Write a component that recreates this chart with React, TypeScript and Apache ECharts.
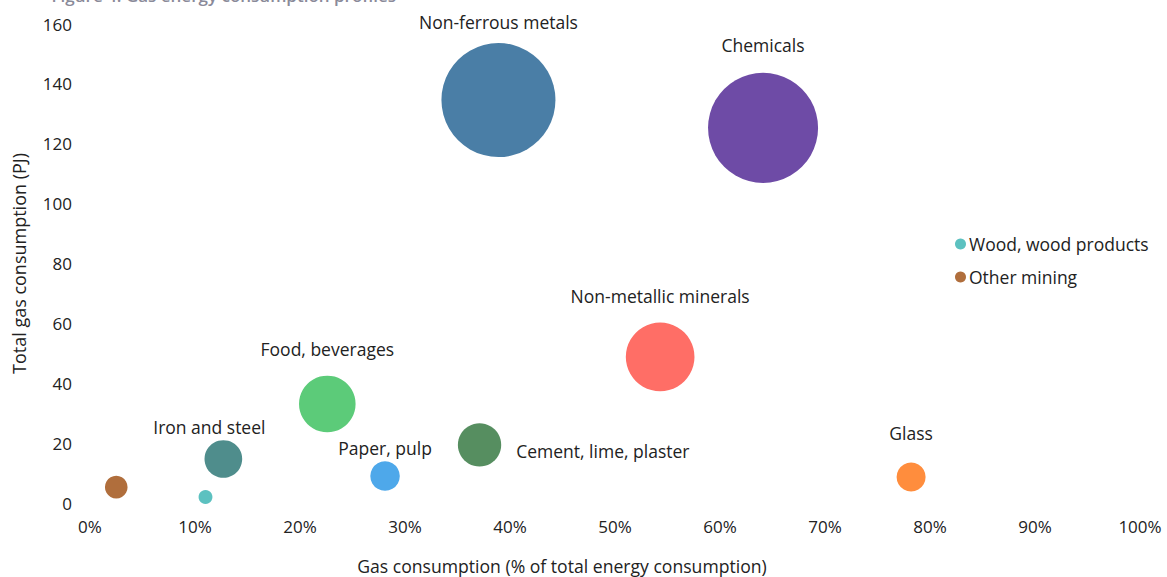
import React, { useEffect, useRef } from "react";
import * as echarts from "echarts";

const sectors = [
  "Non-ferrous metals",
  "Chemicals",
  "Non-metallic minerals",
  "Food, beverages",
  "Iron and steel",
  "Cement, lime, plaster",
  "Paper, pulp",
  "Glass",
  "Wood, wood products",
  "Other mining",
];
// Gas share of total energy consumption (%)
const gasShare = [38.9, 64.1, 54.3, 22.6, 12.7, 37.1, 28.1, 78.2, 11.0, 2.5];
// Total gas consumption (PJ)
const gasPJ = [134.6, 125.3, 48.8, 33.1, 14.7, 19.4, 9.0, 8.7, 2.0, 5.3];
const legendItems = ["Wood, wood products", "Other mining"];
const xTicks = [0, 10, 20, 30, 40, 50, 60, 70, 80, 90, 100];
const yTicks = [0, 20, 40, 60, 80, 100, 120, 140, 160];

const colors: Record<string, string> = {
  "Non-ferrous metals": "#4A7EA6",
  Chemicals: "#6E4BA6",
  "Non-metallic minerals": "#FF6E66",
  "Food, beverages": "#5CCB79",
  "Iron and steel": "#4F8D8C",
  "Cement, lime, plaster": "#568E60",
  "Paper, pulp": "#4EA8EA",
  Glass: "#FF8D3D",
  "Wood, wood products": "#5CC1C0",
  "Other mining": "#B06E3C",
};

const labelLayout: Record<string, any> = {
  "Non-ferrous metals": { show: true, position: "top", distance: 12 },
  Chemicals: { show: true, position: "top", distance: 19 },
  "Non-metallic minerals": { show: true, position: "top", distance: 18 },
  "Food, beverages": { show: true, position: "top", distance: 18 },
  "Iron and steel": { show: true, position: "top", distance: 4, offset: [-14, 0] },
  "Cement, lime, plaster": { show: true, position: "right", distance: 15, offset: [0, 6] },
  "Paper, pulp": { show: true, position: "top", distance: 4 },
  Glass: { show: true, position: "top", distance: 20 },
  "Wood, wood products": { show: false },
  "Other mining": { show: false },
};

const FONT = "'Open Sans', 'Noto Sans', sans-serif";
const TXT = "#222222";

export default function App() {
  const ref = useRef<HTMLDivElement>(null);
  useEffect(() => {
    if (!ref.current) return;
    const chart = echarts.init(ref.current, undefined, { renderer: "svg" });
    const series = sectors.map((name, i) => ({
      name,
      type: "scatter",
      data: [[gasShare[i], gasPJ[i]]],
      symbol: "circle",
      symbolSize: (v: number[]) => 9.83 * Math.sqrt(v[1]),
      itemStyle: { color: colors[name], opacity: 1 },
      label: {
        ...labelLayout[name],
        formatter: name,
        color: TXT,
        fontSize: 17.5,
        fontFamily: FONT,
      },
      emphasis: { disabled: true },
    }));
    chart.setOption({
      animation: false,
      textStyle: { fontFamily: FONT },
      grid: { left: 90, right: 27, top: 24, bottom: 74, containLabel: false },
      legend: {
        data: legendItems,
        orient: "vertical",
        left: 950,
        top: 230,
        itemWidth: 11,
        itemHeight: 11,
        itemGap: 15,
        icon: "circle",
        textStyle: { fontSize: 17.5, color: TXT, fontFamily: FONT, padding: [0, 0, 0, -2] },
        selectedMode: false,
      },
      xAxis: {
        type: "value",
        min: xTicks[0],
        max: xTicks[xTicks.length - 1],
        interval: 10,
        axisLine: { show: false },
        axisTick: { show: false },
        splitLine: { show: false },
        axisLabel: {
          formatter: (v: number) => `${v}%`,
          fontSize: 17,
          color: TXT,
          margin: 15,
          fontFamily: FONT,
        },
      },
      yAxis: {
        type: "value",
        min: yTicks[0],
        max: yTicks[yTicks.length - 1],
        interval: 20,
        axisLine: { show: false },
        axisTick: { show: false },
        splitLine: { show: false },
        name: "Total gas consumption (PJ)",
        nameLocation: "middle",
        nameGap: 62,
        nameTextStyle: { fontSize: 18, color: TXT, fontFamily: FONT },
        axisLabel: { fontSize: 17, color: TXT, margin: 18, fontFamily: FONT },
      },
      graphic: [
        {
          type: "text",
          x: 562,
          y: 566,
          style: {
            text: "Gas consumption (% of total energy consumption)",
            fontSize: 17.6,
            fill: TXT,
            fontFamily: FONT,
            textAlign: "center",
            textVerticalAlign: "middle",
          },
        },
        {
          type: "text",
          x: 396,
          y: -5,
          style: {
            text: "Figure 4: Gas energy consumption profiles",
            fontSize: 17,
            fontWeight: 600,
            fill: "#8A8A99",
            fontFamily: FONT,
            textAlign: "right",
            textVerticalAlign: "middle",
          },
        },
      ],
      series,
    });
    return () => chart.dispose();
  }, []);
  return <div ref={ref} style={{ width: 1167, height: 577, position: "absolute", left: 0, top: 0 }} />;
}
